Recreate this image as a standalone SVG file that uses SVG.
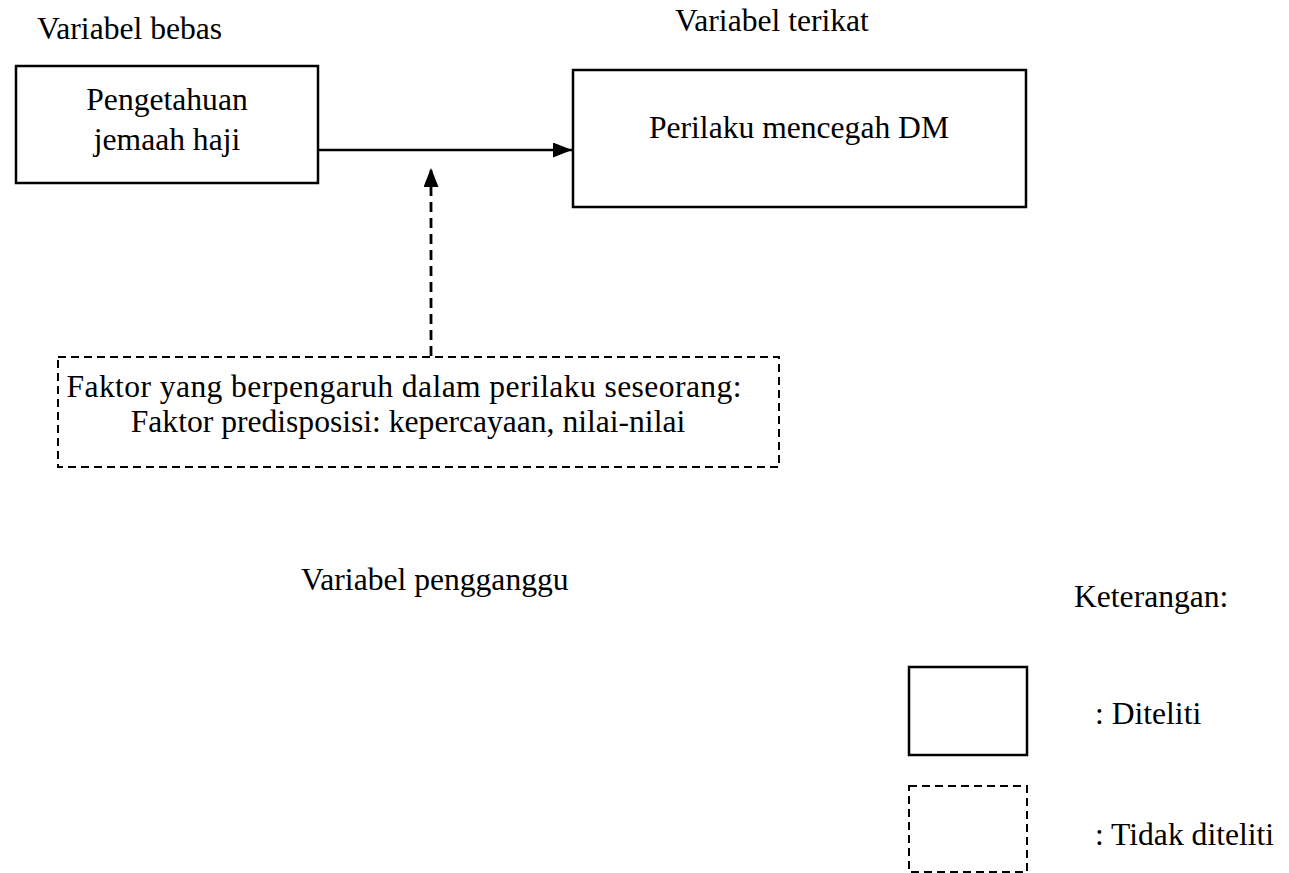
<svg xmlns="http://www.w3.org/2000/svg" width="1289" height="873" viewBox="0 0 1289 873" font-family="'Liberation Serif','Times New Roman',serif">
<style>
text{font-family:"Liberation Serif","Times New Roman",serif;font-size:31.6px;fill:#000}
.solid{fill:#fff;stroke:#000;stroke-width:2.5}
.dash{fill:#fff;stroke:#000;stroke-width:2;stroke-dasharray:8 5}
.c{text-anchor:middle}
</style>
<defs>
<marker id="ah" viewBox="0 0 19 15" refX="19" refY="7.5" markerWidth="19" markerHeight="15" markerUnits="userSpaceOnUse" orient="auto">
<path d="M0,0 L19,7.5 L0,15 z" fill="#000"/>
</marker>
</defs>
<rect width="1289" height="873" fill="#fff"/>
<g id="labels">
<text x="37" y="39">Variabel bebas</text>
<text x="675" y="31">Variabel terikat</text>
<text x="301" y="590">Variabel pengganggu</text>
<text x="1074" y="607">Keterangan:</text>
</g>
<g id="connectors">
<line x1="318" y1="150" x2="572" y2="150" stroke="#000" stroke-width="2.5" marker-end="url(#ah)"/>
<line x1="431" y1="356" x2="431" y2="168" stroke="#000" stroke-width="2.8" stroke-dasharray="10 6" marker-end="url(#ah)"/>
</g>
<g id="node-pengetahuan">
<rect class="solid" x="16" y="66" width="302" height="117"/>
<text class="c" x="167" y="110">Pengetahuan</text>
<text class="c" x="167" y="150">jemaah haji</text>
</g>
<g id="node-perilaku">
<rect class="solid" x="573" y="70" width="453" height="137"/>
<text class="c" x="799" y="138">Perilaku mencegah DM</text>
</g>
<g id="node-faktor">
<rect class="dash" x="58" y="357" width="721" height="110"/>
<text class="c" x="404" y="397" textLength="675" lengthAdjust="spacing">Faktor yang berpengaruh dalam perilaku seseorang:</text>
<text class="c" x="408" y="432">Faktor predisposisi: kepercayaan, nilai-nilai</text>
</g>
<g id="legend-diteliti">
<rect class="solid" x="909" y="667" width="118" height="88"/>
<text x="1095" y="724">: Diteliti</text>
</g>
<g id="legend-tidak">
<rect class="dash" x="909" y="786" width="118" height="86"/>
<text x="1095" y="845">: Tidak diteliti</text>
</g>
</svg>
